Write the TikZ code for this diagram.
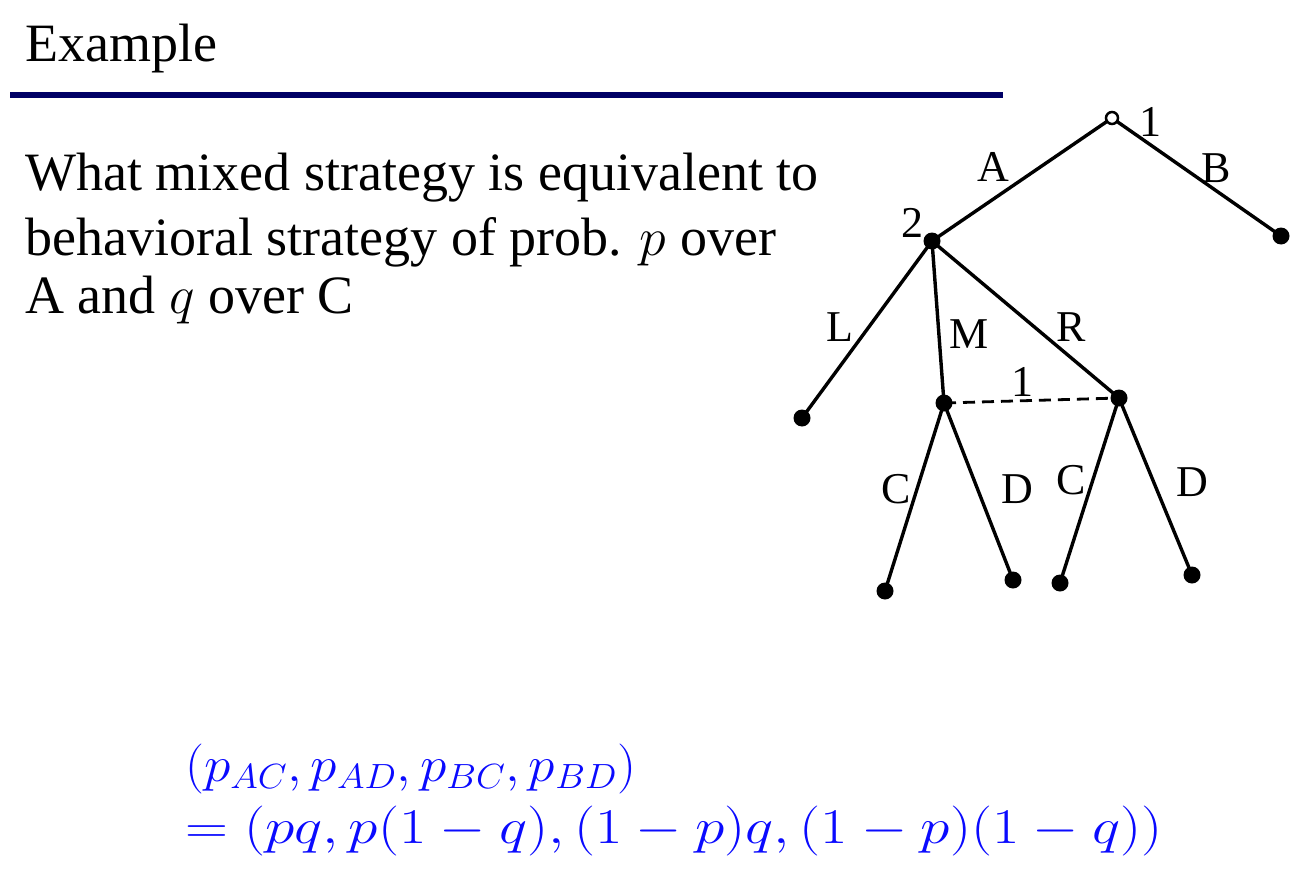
\documentclass[tikz,border=0pt]{standalone}
\usepackage{fix-cm}
\usepackage{fontspec}
\setmainfont{Liberation Serif}
\definecolor{navyrule}{RGB}{0,0,102}
\definecolor{formblue}{RGB}{10,10,255}
\begin{document}
\begin{tikzpicture}[x=1pt,y=-1pt,
  dot/.style={circle,fill=black,inner sep=0pt,minimum size=17pt},
  opendot/.style={circle,draw=black,line width=2.5pt,fill=white,inner sep=0pt,minimum size=12pt},
  edge/.style={line width=3.4pt},
  lbl/.style={font=\fontsize{44}{52}\selectfont,inner sep=0pt},
  body/.style={font=\fontsize{54}{64}\selectfont,inner sep=0pt,anchor=base west},
  form/.style={font=\fontsize{50}{58}\selectfont,text=formblue,inner sep=0pt,anchor=base west}]
\useasboundingbox (0,0) rectangle (1307,891);
% title
\node[body] (title) at (25,62) {Example};
\draw[navyrule,line width=6pt] (10,95) -- (1003,95);
% body text
\node[body] (t1) at (25,190) {What mixed strategy is equivalent to};
\node[body] (t2) at (25,255) {behavioral strategy of prob. $p$ over};
\node[body] (t3) at (25,313) {A and $q$ over C};
% tree nodes
\coordinate (rootc) at (1112,118);
\node[dot] (n2) at (932,241) {};
\node[dot] (lb) at (1281,236) {};
\node[dot] (lL) at (802,418) {};
\node[dot] (nM) at (944,403) {};
\node[dot] (nR) at (1119,398) {};
\node[dot] (mc) at (885,591) {};
\node[dot] (md) at (1013,580) {};
\node[dot] (rc) at (1060,583) {};
\node[dot] (rd) at (1192,575) {};
\draw[edge] (rootc) -- (n2.center);
\draw[edge] (rootc) -- (lb.center);
\draw[edge] (n2.center) -- (lL.center);
\draw[edge] (n2.center) -- (nM.center);
\draw[edge] (n2.center) -- (nR.center);
\draw[edge] (nM.center) -- (mc.center);
\draw[edge] (nM.center) -- (md.center);
\draw[edge] (nR.center) -- (rc.center);
\draw[edge] (nR.center) -- (rd.center);
\draw[line width=2.8pt,dash pattern=on 12pt off 7pt] (nM.center) -- (nR.center);
\node[opendot] (root) at (rootc) {};
% labels
\node[lbl] (l1) at (1150,122) {1};
\node[lbl] (l2) at (912,223) {2};
\node[lbl] (lA) at (993,167) {A};
\node[lbl] (lB) at (1216,168) {B};
\node[lbl] (lLl) at (840,327) {L};
\node[lbl] (lM) at (969,334) {M};
\node[lbl] (lR) at (1071,327) {R};
\node[lbl] (li) at (1022,382) {1};
\node[lbl] (lC1) at (896,489) {C};
\node[lbl] (lD1) at (1017,489) {D};
\node[lbl] (lC2) at (1071,480) {C};
\node[lbl] (lD2) at (1192,482) {D};
% formula
\node[form] (f1) at (185,781) {\scalebox{1.07}[1]{$(p_{AC},p_{AD},p_{BC},p_{BD})$}};
\node[form] (f2) at (185,843) {\scalebox{1.19}[1]{$=(pq,p(1-q),(1-p)q,(1-p)(1-q))$}};
\end{tikzpicture}
\end{document}
